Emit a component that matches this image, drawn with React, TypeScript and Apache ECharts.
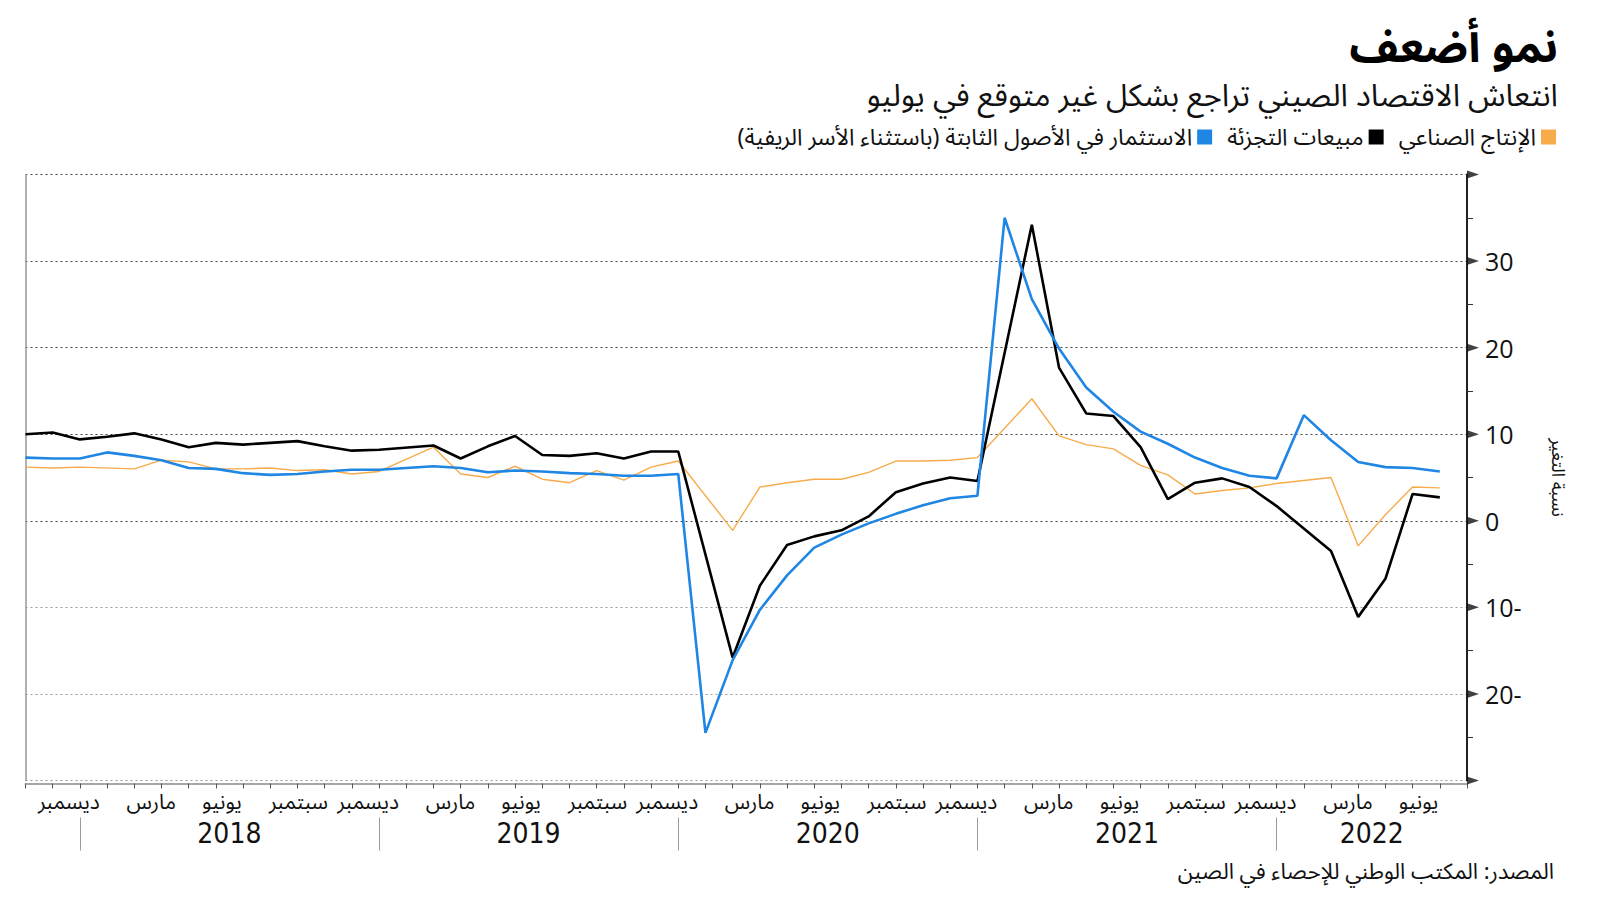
import React, { useEffect, useRef } from 'react';
import * as echarts from 'echarts';

// Monthly slots (Jan and Feb are reported together, shown at the Feb slot)
const categories = [
  '2017-10', '2017-11', '2017-12',
  '2018-02', '2018-03', '2018-04', '2018-05', '2018-06', '2018-07', '2018-08', '2018-09', '2018-10', '2018-11', '2018-12',
  '2019-02', '2019-03', '2019-04', '2019-05', '2019-06', '2019-07', '2019-08', '2019-09', '2019-10', '2019-11', '2019-12',
  '2020-02', '2020-03', '2020-04', '2020-05', '2020-06', '2020-07', '2020-08', '2020-09', '2020-10', '2020-11', '2020-12',
  '2021-02', '2021-03', '2021-04', '2021-05', '2021-06', '2021-07', '2021-08', '2021-09', '2021-10', '2021-11', '2021-12',
  '2022-02', '2022-03', '2022-04', '2022-05', '2022-06', '2022-07', '2022-08',
];

// الإنتاج الصناعي
const industrialProduction = [
  6.2, 6.1, 6.2,
  null, 6.0, 7.0, 6.8, 6.0, 6.0, 6.1, 5.8, 5.9, 5.4, 5.7,
  null, 8.5, 5.4, 5.0, 6.3, 4.8, 4.4, 5.8, 4.7, 6.2, 6.9,
  null, -1.1, 3.9, 4.4, 4.8, 4.8, 5.6, 6.9, 6.9, 7.0, 7.3,
  null, 14.1, 9.8, 8.8, 8.3, 6.4, 5.3, 3.1, 3.5, 3.8, 4.3,
  null, 5.0, -2.9, 0.7, 3.9, 3.8, null,
];

// مبيعات التجزئة
const retailSales = [
  10.0, 10.2, 9.4,
  9.7, 10.1, 9.4, 8.5, 9.0, 8.8, 9.0, 9.2, 8.6, 8.1, 8.2,
  null, 8.7, 7.2, 8.6, 9.8, 7.6, 7.5, 7.8, 7.2, 8.0, 8.0,
  null, -15.8, -7.5, -2.8, -1.8, -1.1, 0.5, 3.3, 4.3, 5.0, 4.6,
  null, 34.2, 17.7, 12.4, 12.1, 8.5, 2.5, 4.4, 4.9, 3.9, 1.7,
  null, -3.5, -11.1, -6.7, 3.1, 2.7, null,
];

// الاستثمار في الأصول الثابتة
const fixedAssetInvestment = [
  7.3, 7.2, 7.2,
  7.9, 7.5, 7.0, 6.1, 6.0, 5.5, 5.3, 5.4, 5.7, 5.9, 5.9,
  6.1, 6.3, 6.1, 5.6, 5.8, 5.7, 5.5, 5.4, 5.2, 5.2, 5.4,
  -24.5, -16.1, -10.3, -6.3, -3.1, -1.6, -0.3, 0.8, 1.8, 2.6, 2.9,
  35.0, 25.6, 19.9, 15.4, 12.6, 10.3, 8.9, 7.3, 6.1, 5.2, 4.9,
  12.2, 9.3, 6.8, 6.2, 6.1, 5.7, null,
];

const yTickValues = [40, 30, 20, 10, 0, -10, -20, -30];

const monthNames: Record<string, string> = {
  '03': 'مارس',
  '06': 'يونيو',
  '09': 'سبتمبر',
  '12': 'ديسمبر',
};

const yearLabels: Record<string, string> = {
  '2018-06': '2018',
  '2019-06': '2019',
  '2020-06': '2020',
  '2021-06': '2021',
  '2022-04': '2022',
};

const yearSeparators = ['2017-12', '2018-12', '2019-12', '2020-12', '2021-12'];

const seriesNames = {
  ip: 'الإنتاج الصناعي',
  retail: 'مبيعات التجزئة',
  fai: 'الاستثمار في الأصول الثابتة (باستثناء الأسر الريفية)',
};

const AR = "'Noto Sans Arabic', 'DejaVu Sans', sans-serif";
const NUM = "'Open Sans', 'Noto Sans', sans-serif";
const NARROW = "'Liberation Sans Narrow', 'DejaVu Sans Condensed', 'Open Sans', sans-serif";

export default function App() {
  const ref = useRef<HTMLDivElement>(null);

  useEffect(() => {
    const chart = echarts.init(ref.current!, null, { renderer: 'svg' });
    const monthRich = {
      m12: { fontFamily: AR, fontSize: 21, color: '#111', padding: [0, 22, 0, 0] },
      m03: { fontFamily: AR, fontSize: 21, color: '#111', padding: [0, 0, 0, 34] },
      m06: { fontFamily: AR, fontSize: 21, color: '#111', padding: [0, 0, 0, 12] },
      m09: { fontFamily: AR, fontSize: 21, color: '#111', padding: [0, 0, 0, 2] },
    };
    const option: any = {
      animation: false,
      backgroundColor: '#ffffff',
      textStyle: { fontFamily: AR },
      title: [
        {
          text: 'نمو أضعف',
          right: 42,
          top: 22,
          padding: 0,
          textStyle: { fontFamily: AR, fontSize: 45, fontWeight: 'bold', color: '#000', lineHeight: 50 },
        },
        {
          text: 'انتعاش الاقتصاد الصيني تراجع بشكل غير متوقع في يوليو',
          right: 42,
          top: 78,
          padding: 0,
          textStyle: { fontFamily: AR, fontSize: 31, fontWeight: 'normal', color: '#111', lineHeight: 36 },
        },
      ],
      legend: {
        data: [seriesNames.fai, seriesNames.retail, seriesNames.ip],
        right: 44,
        top: 124,
        padding: 0,
        align: 'right',
        icon: 'rect',
        itemWidth: 15,
        itemHeight: 15,
        itemGap: 15,
        selectedMode: false,
        textStyle: { fontFamily: AR, fontSize: 23, color: '#111', lineHeight: 26 },
      },
      grid: { left: 25.5, right: 133, top: 174.5, bottom: 120.5, containLabel: false },
      xAxis: [
        {
          type: 'category',
          data: categories,
          boundaryGap: false,
          offset: 3,
          axisLine: { show: true, onZero: false, lineStyle: { color: '#8a8a8a', width: 1.5 } },
          axisTick: { show: true, interval: 0, length: 5, lineStyle: { color: '#555', width: 1 } },
          axisLabel: {
            interval: (i: number, v: string) => !!monthNames[v.slice(5)],
            formatter: (v: string) => {
              const m = v.slice(5);
              return monthNames[m] ? `{m${m}|${monthNames[m]}}` : '';
            },
            rich: monthRich,
            margin: 8,
          },
          splitLine: { show: false },
        },
        {
          type: 'category',
          data: categories,
          boundaryGap: false,
          position: 'bottom',
          offset: 37,
          axisLine: { show: false, onZero: false },
          axisTick: {
            show: true,
            interval: (i: number, v: string) => yearSeparators.includes(v),
            length: 33,
            lineStyle: { color: '#9a9a9a', width: 1 },
          },
          axisLabel: {
            interval: (i: number, v: string) => !!yearLabels[v],
            formatter: (v: string) => (yearLabels[v] ? `{y|${yearLabels[v]}}` : ''),
            margin: 2,
            rich: {
              y: { fontFamily: NARROW, fontSize: 28, color: '#111', padding: [0, 0, 0, 27] },
            },
          },
          splitLine: { show: false },
        },
      ],
      yAxis: [
        {
          type: 'value',
          position: 'right',
          min: -30,
          max: 40,
          interval: 10,
          axisLine: { show: true, onZero: false, lineStyle: { color: '#222', width: 2 } },
          axisTick: { show: false },
          minorTick: { show: true, splitNumber: 2, length: 6, lineStyle: { color: '#333', width: 1 } },
          axisLabel: {
            showMinLabel: false,
            showMaxLabel: false,
            margin: 18,
            fontFamily: NUM,
            fontSize: 25,
            color: '#111',
            formatter: (v: number) => (v < 0 ? `${-v}-` : `${v}`),
          },
          splitLine: {
            show: true,
            lineStyle: {
              type: [2, 3],
              width: 1,
              color: ['#9a9a9a', '#9a9a9a', '#9a9a9a', '#444', '#444', '#444', '#444', '#444'],
            },
          },
          name: 'نسبة التغير',
          nameLocation: 'middle',
          nameRotate: -90,
          nameGap: 82,
          nameTextStyle: { fontFamily: AR, fontSize: 18, color: '#111' },
        },
        {
          type: 'value',
          position: 'left',
          min: -30,
          max: 40,
          axisLine: { show: true, onZero: false, lineStyle: { color: '#999', width: 1.5 } },
          axisTick: { show: false },
          axisLabel: { show: false },
          splitLine: { show: false },
        },
      ],
      series: [
        {
          name: seriesNames.ip,
          type: 'line',
          data: industrialProduction,
          connectNulls: true,
          showSymbol: false,
          symbol: 'none',
          color: '#f7ab4a',
          lineStyle: { color: '#f7ab4a', width: 1.4 },
          z: 2,
        },
        {
          name: seriesNames.retail,
          type: 'line',
          data: retailSales,
          connectNulls: true,
          showSymbol: false,
          symbol: 'none',
          color: '#000000',
          lineStyle: { color: '#000000', width: 2.6 },
          z: 3,
        },
        {
          name: seriesNames.fai,
          type: 'line',
          data: fixedAssetInvestment,
          connectNulls: true,
          showSymbol: false,
          symbol: 'none',
          color: '#1f86e3',
          lineStyle: { color: '#1f86e3', width: 2.6 },
          z: 4,
        },
        {
          name: 'ticks',
          type: 'scatter',
          data: yTickValues.map((v) => [categories[categories.length - 1], v]),
          symbol: 'triangle',
          symbolSize: [8, 12],
          symbolRotate: -90,
          symbolOffset: [6, 0],
          clip: false,
          itemStyle: { color: '#111' },
          silent: true,
          z: 10,
        },
      ],
      graphic: [
        {
          type: 'text',
          right: 46,
          top: 861,
          style: {
            text: 'المصدر: المكتب الوطني للإحصاء في الصين',
            fontFamily: AR,
            fontSize: 22,
            fill: '#111',
          },
        },
      ],
    };
    chart.setOption(option);
    return () => chart.dispose();
  }, []);

  return (
    <div
      ref={ref}
      style={{ position: 'fixed', left: 0, top: 0, width: 1600, height: 901, background: '#fff' }}
    />
  );
}
